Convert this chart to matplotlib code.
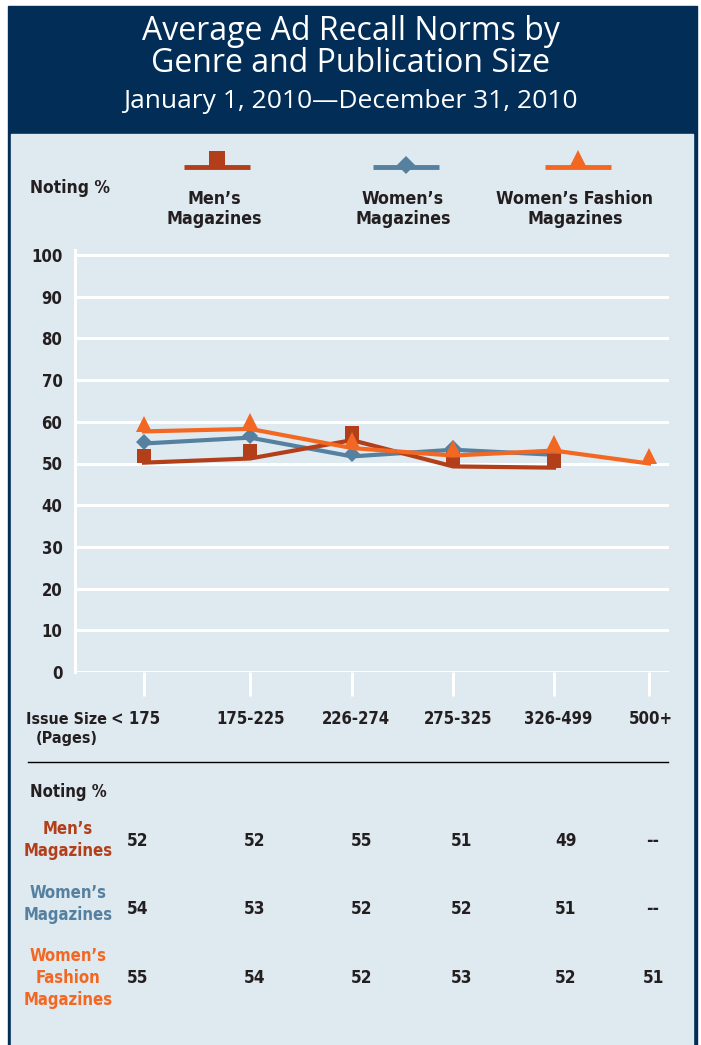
import matplotlib
matplotlib.use("Agg")
import matplotlib.pyplot as plt
from matplotlib.patches import Rectangle
from matplotlib.transforms import offset_copy, blended_transform_factory

# ---- data ----
size_labels = ["< 175", "175-225", "226-274", "275-325", "326-499", "500+"]
series_names = ["Men\u2019s\nMagazines", "Women\u2019s\nMagazines", "Women\u2019s Fashion\nMagazines"]
table_names = ["Men\u2019s\nMagazines", "Women\u2019s\nMagazines", "Women\u2019s\nFashion\nMagazines"]

# values as drawn in the line chart
mens_line = [50.2, 51.2, 55.6, 49.3, 49.0]
womens_line = [54.8, 56.2, 51.7, 53.3, 52.1]
fashion_line = [57.7, 58.3, 53.7, 51.9, 53.1, 50.0]

# values printed in the table (None = "--")
mens_table = [52, 52, 55, 51, 49, None]
womens_table = [54, 53, 52, 52, 51, None]
fashion_table = [55, 54, 52, 53, 52, 51]

y_ticks = [0, 10, 20, 30, 40, 50, 60, 70, 80, 90, 100]

# layout (pixels)
cat_px = [144, 250, 352, 453, 554, 649]
label_dx = [-8, 1, 4, 5, 4, 2]
table_col_px = [138, 255, 362, 462, 566, 653]

NAVY = "#012d57"
PANEL = "#dfe9f0"
MEN = "#b33f1a"
WOMEN = "#55809f"
FASHION = "#f26823"
INK = "#231f20"

W, H = 701, 1045
TFONT = ["Open Sans", "DejaVu Sans"]
LBL = dict(family="DejaVu Sans", fontstretch="condensed", fontweight="bold")

fig = plt.figure(figsize=(W / 100, H / 100), dpi=100)


def fx(px):
    return px / W


def fy(py):
    return 1 - py / H


# background layer in pixel coords
bg = fig.add_axes([0, 0, 1, 1], zorder=0)
bg.set_xlim(0, W)
bg.set_ylim(H, 0)
bg.axis("off")
bg.add_patch(Rectangle((8, 6), 689, H, color=NAVY))
bg.add_patch(Rectangle((11, 134), 682, H, color=PANEL))

# header
fig.text(0.5, fy(31), "Average Ad Recall Norms by", ha="center", va="center",
         color="white", fontsize=23, family=TFONT)
fig.text(0.5, fy(64), "Genre and Publication Size", ha="center", va="center",
         color="white", fontsize=23, family=TFONT)
fig.text(0.5, fy(101), "January 1, 2010\u2014December 31, 2010", ha="center", va="center",
         color="white", fontsize=19, family=TFONT)

# legend
fig.text(fx(30), fy(188), "Noting %", ha="left", va="center", color=INK,
         fontsize=12.5, **LBL)
legend_x = [217, 406, 578]
colors = [MEN, WOMEN, FASHION]
markers = [("s", 11, 5.5), ("D", 9, 1.5), ("^", 12.5, 6)]
for cx, name, col, (mk, ms, dy) in zip(legend_x, series_names, colors, markers):
    bg.plot([cx - 33, cx + 33], [167, 167], color=col, lw=3.5, solid_capstyle="butt")
    tr = offset_copy(bg.transData, fig=fig, x=0, y=dy, units="points")
    bg.plot([cx], [167], marker=mk, ms=ms, color=col, transform=tr, mew=0)
    fig.text(fx(cx - 3), fy(209), name, ha="center", va="center", color=INK,
             fontsize=12.8, linespacing=1.18, **LBL)

# main chart: x in pixel units so category spacing follows the original
left_px, right_px, top_px, bot_px = 75, 669, 250, 672
ax = fig.add_axes([fx(left_px), fy(bot_px), (right_px - left_px) / W, (bot_px - top_px) / H],
                  zorder=1)
ax.set_facecolor("none")
ax.set_xlim(left_px, right_px)
ax.set_ylim(0, 100 + (255 - top_px) / ((bot_px - 255) / 100))
for s in ["top", "right", "bottom"]:
    ax.spines[s].set_visible(False)
ax.spines["left"].set_color("white")
ax.spines["left"].set_linewidth(2.2)
ax.set_yticks(y_ticks)
ax.yaxis.grid(True, color="white", lw=2.2)
ax.set_axisbelow(True)
ax.tick_params(axis="y", length=0, pad=9, labelsize=12, labelcolor=INK)
for lab in ax.get_yticklabels():
    lab.set_fontweight("bold")
    lab.set_family("DejaVu Sans")
    lab.set_fontstretch("condensed")
ax.set_xticks(cat_px)
ax.set_xticklabels([])
ax.tick_params(axis="x", length=17, width=2.2, color="white", direction="out")

lines = [mens_line, womens_line, fashion_line]
zs = [3, 2, 4]
for vals, col, (mk, ms, dy), z in zip(lines, colors, markers, zs):
    xs = cat_px[:len(vals)]
    ax.plot(xs, vals, color=col, lw=3, zorder=z, clip_on=False)
    tr = offset_copy(ax.transData, fig=fig, x=0, y=dy * 0.92, units="points")
    ax.plot(xs, vals, ls="none", marker=mk, ms=ms * 0.92, color=col, mew=0,
            transform=tr, zorder=z + 0.5, clip_on=False)

# x category labels
xt = blended_transform_factory(ax.transData, fig.transFigure)
for px, dx, lab in zip(cat_px, label_dx, size_labels):
    ax.text(px + dx, fy(719), lab, transform=xt, ha="center", va="center", color=INK,
            fontsize=12, **LBL)
fig.text(fx(67), fy(729), "Issue Size\n(Pages)", ha="center", va="center", color=INK,
         fontsize=11.5, linespacing=1.35, **LBL)

# separator
bg.plot([28, 668], [762, 762], color="black", lw=1)

# table
fig.text(fx(30), fy(792), "Noting %", ha="left", va="center", color=INK,
         fontsize=12, **LBL)
row_y = [841, 909, 978]
label_y = [840, 904, 978]
tables = [mens_table, womens_table, fashion_table]
for ry, ly, name, col, vals in zip(row_y, label_y, table_names, colors, tables):
    fig.text(fx(68), fy(ly), name, ha="center", va="center", color=col,
             fontsize=12, linespacing=1.3, **LBL)
    for cx, v in zip(table_col_px, vals):
        fig.text(fx(cx), fy(ry), "--" if v is None else str(v), ha="center",
                 va="center", color=INK, fontsize=12.3, **LBL)

fig.savefig("out.png", dpi=100)
